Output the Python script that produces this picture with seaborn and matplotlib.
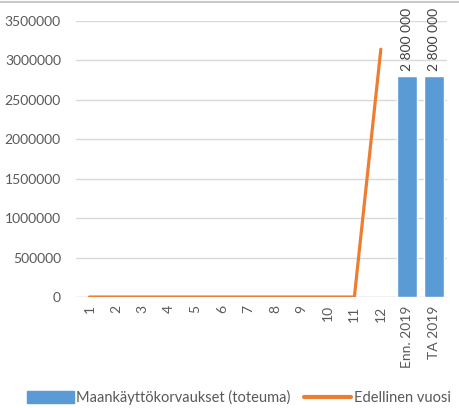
import matplotlib
matplotlib.use("Agg")
import matplotlib.pyplot as plt
import numpy as np
import pandas as pd
import seaborn as sns

# Data
CATEGORIES = ["1", "2", "3", "4", "5", "6", "7", "8", "9", "10", "11", "12",
              "Enn. 2019", "TA 2019"]
BAR_VALUES = [np.nan] * 12 + [2800000, 2800000]
LINE_VALUES = [0, 0, 0, 0, 0, 0, 0, 0, 0, 0, 0, 3140000]
BAR_LABELS = ["2 800 000", "2 800 000"]
YTICKS = [0, 500000, 1000000, 1500000, 2000000, 2500000, 3000000, 3500000]

BAR_NAME = "Maankäyttökorvaukset (toteuma)"
LINE_NAME = "Edellinen vuosi"
BAR_COLOR = "#5B9BD5"
LINE_COLOR = "#ED7D31"
TEXT_COLOR = "#595959"

sns.set_theme(style="white")
plt.rcParams["font.family"] = ["Lato", "DejaVu Sans"]

fig = plt.figure(figsize=(4.59, 4.08), dpi=100)
ax = fig.add_axes([0.166, 0.272, 0.808, 0.677])

bars_df = pd.DataFrame({"cat": CATEGORIES, "value": BAR_VALUES})
sns.barplot(data=bars_df, x="cat", y="value", color=BAR_COLOR, width=0.76,
            saturation=1, ax=ax, order=CATEGORIES)

line_df = pd.DataFrame({"pos": np.arange(len(LINE_VALUES)), "value": LINE_VALUES})
sns.lineplot(data=line_df, x="pos", y="value", color=LINE_COLOR, linewidth=2.3,
             ax=ax)

# value labels on the two bars
bar_cont = ax.containers[0]
visible = [b for b in bar_cont if np.isfinite(b.get_height()) and b.get_height() > 0]
for b, lab in zip(visible, BAR_LABELS):
    ax.text(b.get_x() + b.get_width() / 2, b.get_height() + 60000, lab,
            rotation=90, ha="center", va="bottom", fontsize=10, color="#404040")

ax.set_ylim(0, 3500000)
ax.set_xlim(-0.5, len(CATEGORIES) - 0.5)
ax.set_yticks(YTICKS)
ax.set_yticklabels([str(v) for v in YTICKS])
ax.set_xticks(range(len(CATEGORIES)))
ax.set_xticklabels(CATEGORIES, rotation=90)
ax.tick_params(axis="both", labelsize=10, colors=TEXT_COLOR, length=0)
ax.tick_params(axis="y", pad=11)
ax.tick_params(axis="x", pad=6)
ax.yaxis.grid(True, color="#D9D9D9", linewidth=1)
ax.set_axisbelow(True)
for s in ax.spines.values():
    s.set_visible(False)
ax.axhline(0, color="#D9D9D9", linewidth=1, zorder=0)
ax.set_xlabel("")
ax.set_ylabel("")

handles = [plt.Rectangle((0, 0), 1, 1, color=BAR_COLOR),
           plt.Line2D([], [], color=LINE_COLOR, linewidth=3)]
fig.legend(handles, [BAR_NAME, LINE_NAME], loc="center", ncol=2,
           bbox_to_anchor=(0.52, 0.025), frameon=False, fontsize=10.5,
           handlelength=3.2, handleheight=0.9, handletextpad=0.2,
           columnspacing=0.9, labelcolor=TEXT_COLOR)

fig.add_artist(plt.Line2D([0, 1], [0.996, 0.996], color="#C8C8C8", linewidth=1.5,
                          transform=fig.transFigure))

fig.savefig("out.png", dpi=100)
